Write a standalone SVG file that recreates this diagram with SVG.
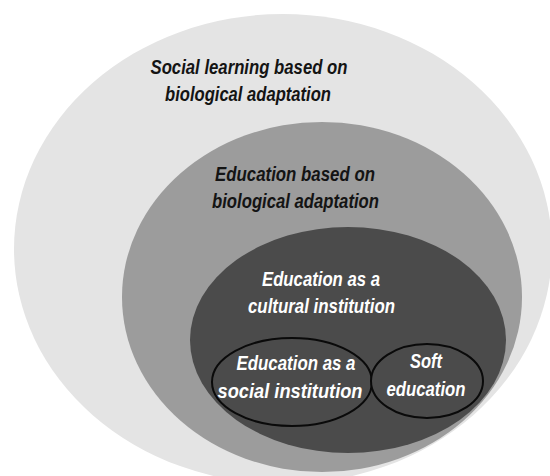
<svg xmlns="http://www.w3.org/2000/svg" width="550" height="476" viewBox="0 0 550 476">
  <style>
    .lbl { font-family: "Liberation Sans", Arial, sans-serif; font-weight: bold; font-style: italic; font-size: 20px; text-anchor: middle; }
    .dark { fill: #141414; }
    .light { fill: #ffffff; }
    .inner { fill: #4b4b4b; stroke: #0a0a0a; stroke-width: 2; }
  </style>
  <rect width="550" height="476" fill="#ffffff"/>
  <g id="social-learning">
    <ellipse cx="283" cy="249" rx="269" ry="235" fill="#e4e4e4"/>
    <text class="lbl dark" x="249" y="74" textLength="197" lengthAdjust="spacingAndGlyphs">Social learning based on</text>
    <text class="lbl dark" x="248" y="101" textLength="166" lengthAdjust="spacingAndGlyphs">biological adaptation</text>
  </g>
  <g id="education-biological">
    <ellipse cx="322" cy="297" rx="200" ry="175" fill="#9c9c9c"/>
    <text class="lbl dark" x="295" y="181" textLength="160" lengthAdjust="spacingAndGlyphs">Education based on</text>
    <text class="lbl dark" x="295.5" y="208" textLength="167" lengthAdjust="spacingAndGlyphs">biological adaptation</text>
  </g>
  <g id="education-cultural">
    <ellipse cx="348" cy="340" rx="158" ry="113" fill="#4b4b4b"/>
    <text class="lbl light" x="321" y="286" textLength="118" lengthAdjust="spacingAndGlyphs">Education as a</text>
    <text class="lbl light" x="321.5" y="313" textLength="147" lengthAdjust="spacingAndGlyphs">cultural institution</text>
  </g>
  <g id="education-social">
    <ellipse class="inner" cx="292" cy="382" rx="80" ry="44"/>
    <text class="lbl light" x="296" y="370" textLength="119" lengthAdjust="spacingAndGlyphs">Education as a</text>
    <text class="lbl light" x="290" y="398" textLength="145" lengthAdjust="spacingAndGlyphs">social institution</text>
  </g>
  <g id="soft-education">
    <ellipse class="inner" cx="427" cy="381" rx="56" ry="37"/>
    <text class="lbl light" x="426" y="368" textLength="32" lengthAdjust="spacingAndGlyphs">Soft</text>
    <text class="lbl light" x="426" y="396" textLength="79" lengthAdjust="spacingAndGlyphs">education</text>
  </g>
  <g id="connectors"></g>
</svg>
